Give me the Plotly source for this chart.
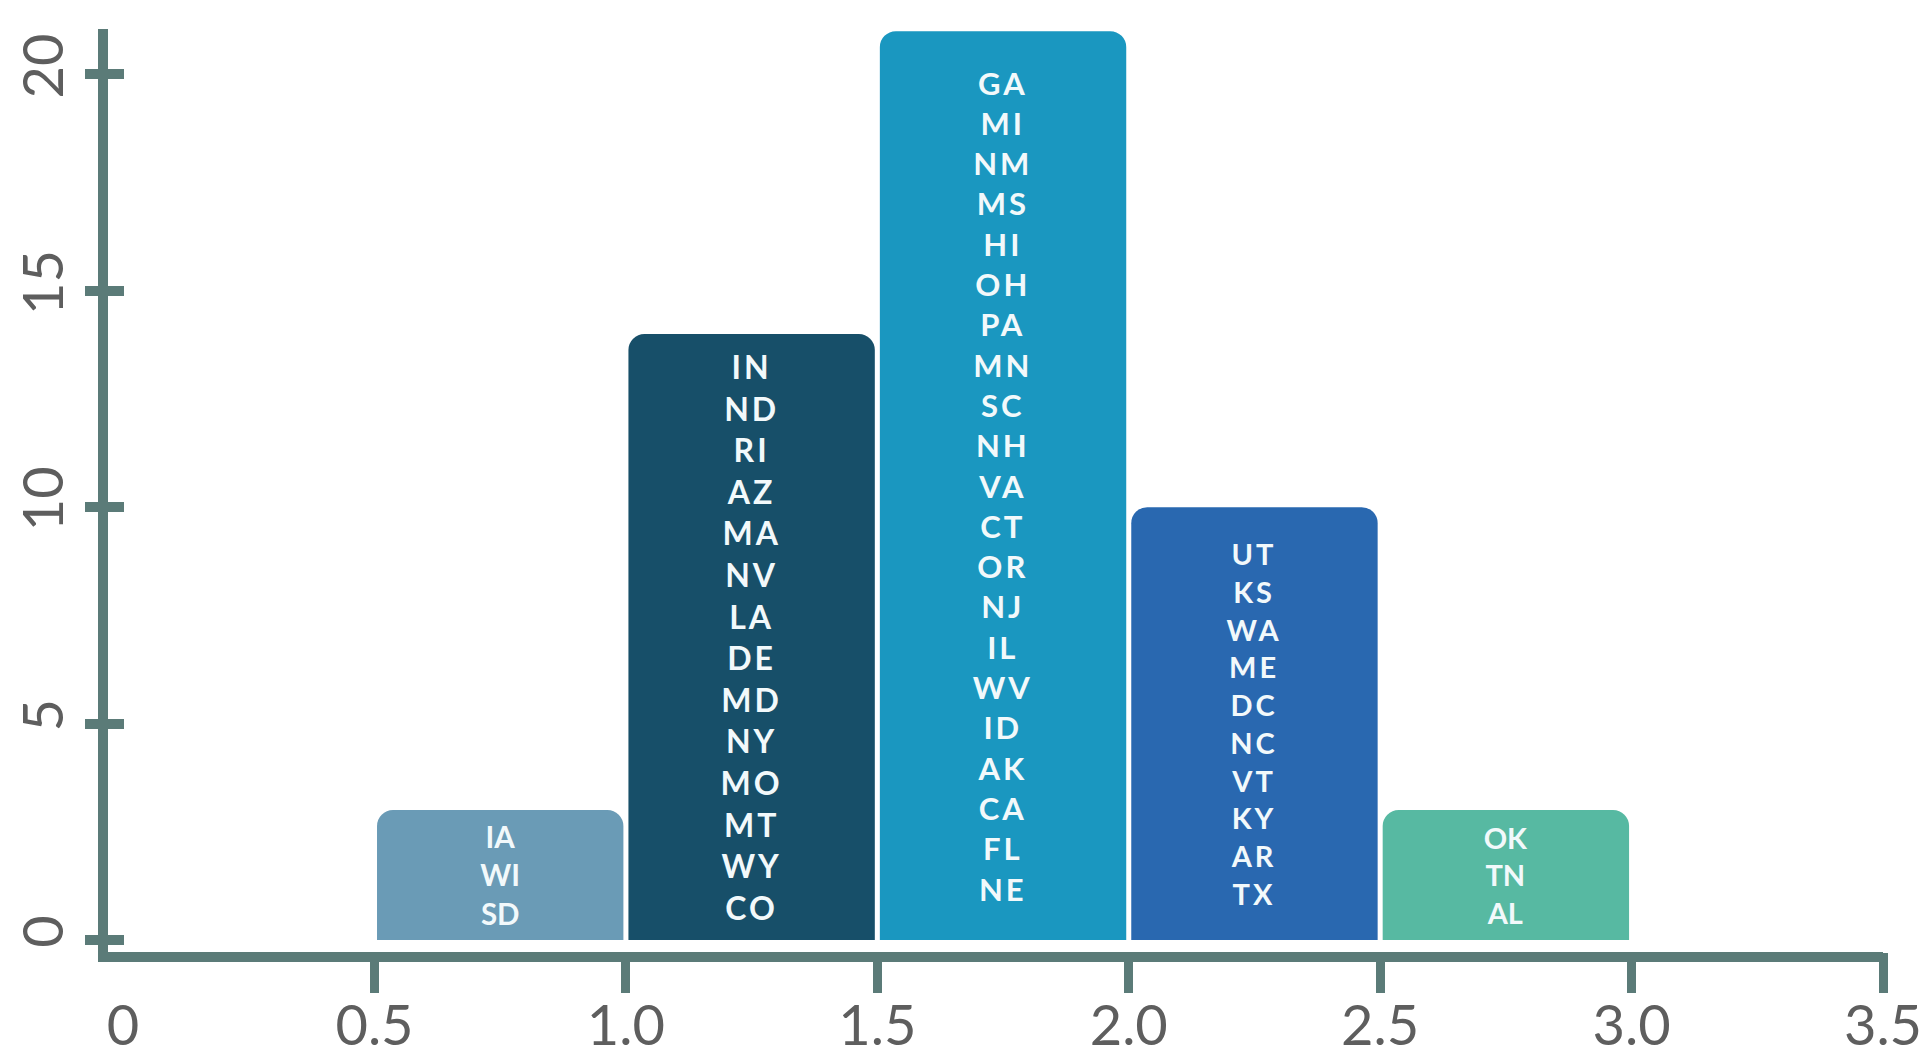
import plotly.graph_objects as go

# Histogram bins (lower edge of each 0.5-wide bin) and the states in each bin
bin_lo = [0.5, 1.0, 1.5, 2.0, 2.5]
bin_states = [
    ["IA", "WI", "SD"],
    ["IN", "ND", "RI", "AZ", "MA", "NV", "LA", "DE", "MD", "NY", "MO", "MT", "WY", "CO"],
    ["GA", "MI", "NM", "MS", "HI", "OH", "PA", "MN", "SC", "NH", "VA", "CT", "OR", "NJ",
     "IL", "WV", "ID", "AK", "CA", "FL", "NE"],
    ["UT", "KS", "WA", "ME", "DC", "NC", "VT", "KY", "AR", "TX"],
    ["OK", "TN", "AL"],
]
bar_colors = ["#6a9bb6", "#174f69", "#1a97c0", "#2968b0", "#57b9a2"]

x_ticks = [0, 0.5, 1.0, 1.5, 2.0, 2.5, 3.0, 3.5]
x_tick_text = ["0", "0.5", "1.0", "1.5", "2.0", "2.5", "3.0", "3.5"]
y_ticks = [0, 5, 10, 15, 20]

bin_width = 0.5
counts = [len(s) for s in bin_states]
centers = [lo + bin_width / 2 for lo in bin_lo]
labels = ["<br>".join(s) for s in bin_states]

AXIS = "#5b7b78"
TICKFONT = dict(family="Lato", size=56, color="#5e5e5e")

fig = go.Figure()
fig.add_trace(go.Bar(
    x=centers,
    y=counts,
    width=bin_width * 0.98,
    text=labels,
    textposition="inside",
    insidetextanchor="middle",
    textangle=0,
    textfont=dict(family="Lato", size=[29.5, 32, 31, 29, 29], color="#f2f9fb", weight=700),
    marker=dict(color=bar_colors, line=dict(width=0), cornerradius=16),
    hoverinfo="skip",
))

# invisible helper trace so the secondary axes are drawn
fig.add_trace(go.Scatter(x=[None], y=[None], xaxis="x2", yaxis="y2",
                         showlegend=False, hoverinfo="skip"))

x_range = [-0.03, 3.5]
y_range = [-0.28, 21.05]

fig.update_layout(
    width=1928,
    height=1057,
    margin=dict(l=108, r=45, t=29, b=105),
    paper_bgcolor="white",
    plot_bgcolor="white",
    showlegend=False,
    xaxis=dict(
        range=x_range,
        tickvals=x_ticks,
        ticktext=x_tick_text,
        ticks="",
        showgrid=False,
        zeroline=False,
        showline=True,
        linecolor=AXIS,
        linewidth=10,
        tickfont=TICKFONT,
        ticklabelstandoff=16,
        automargin=False,
    ),
    xaxis2=dict(
        range=x_range,
        overlaying="x",
        anchor="y",
        side="bottom",
        tickvals=x_ticks[1:],
        ticks="outside",
        ticklen=40,
        tickwidth=9,
        tickcolor=AXIS,
        showticklabels=False,
        showgrid=False,
        zeroline=False,
        showline=False,
        automargin=False,
    ),
    yaxis=dict(
        range=y_range,
        tickvals=y_ticks,
        ticks="outside",
        ticklen=13,
        tickwidth=10,
        tickcolor=AXIS,
        showgrid=False,
        zeroline=False,
        showline=True,
        linecolor=AXIS,
        linewidth=10,
        tickfont=TICKFONT,
        tickangle=-90,
        ticklabelstandoff=0,
        automargin=False,
    ),
    yaxis2=dict(
        range=y_range,
        overlaying="y",
        anchor="x",
        side="left",
        tickvals=y_ticks,
        ticks="inside",
        ticklen=16,
        tickwidth=10,
        tickcolor=AXIS,
        showticklabels=False,
        showgrid=False,
        zeroline=False,
        showline=False,
        automargin=False,
    ),
)

# widen the letter tracking of the state codes in the three tall bars
tracking_js = """
var pts = document.querySelectorAll('.barlayer g.point');
[1, 2, 3].forEach(function (i) {
  if (pts[i]) {
    pts[i].querySelectorAll('text').forEach(function (t) {
      t.style.letterSpacing = '3px';
    });
  }
});
"""

fig.write_html("out.html", post_script=tracking_js)
